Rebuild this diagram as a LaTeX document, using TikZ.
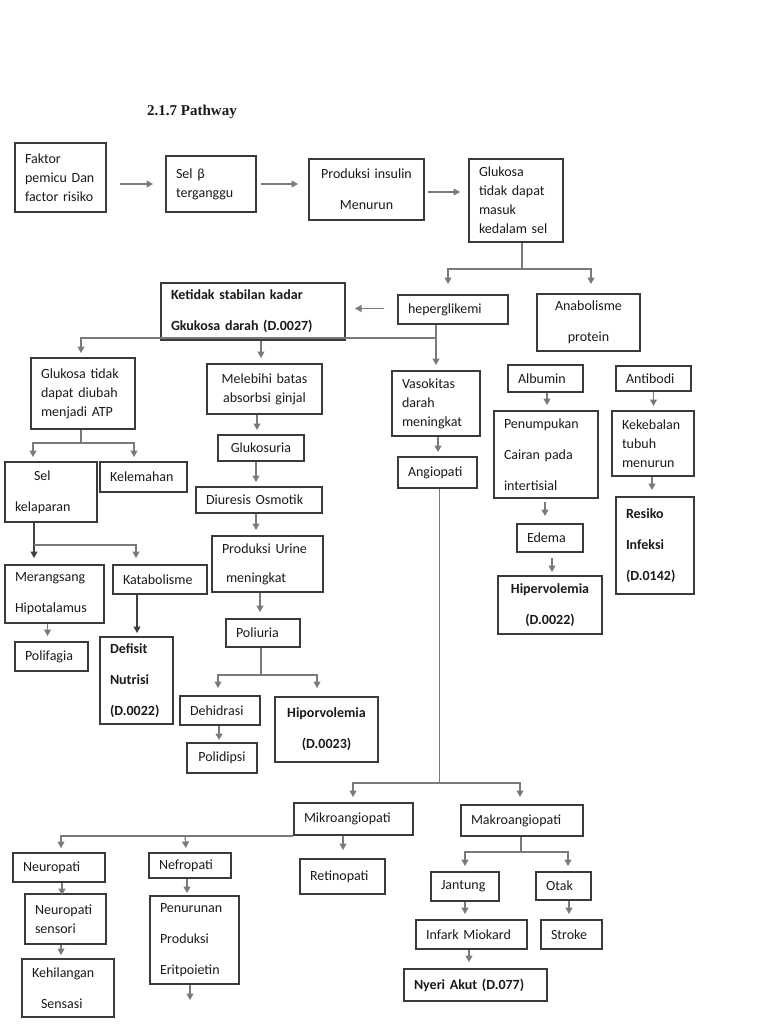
\documentclass[tikz,border=0pt]{standalone}
\usepackage{fontspec}
\setmainfont{Carlito}
\newfontfamily\titlefont{Liberation Serif}
\usetikzlibrary{arrows.meta,calc}
\definecolor{boxc}{HTML}{3A3A3A}
\definecolor{linec}{HTML}{7A7A7A}
\definecolor{darkc}{HTML}{404040}
\definecolor{txtc}{HTML}{1A1A1A}
\newcommand\fs{\fontsize{14}{19}\selectfont\hyphenpenalty=10000\exhyphenpenalty=10000}
\tikzset{
 bx/.style={draw=boxc, line width=2pt, anchor=north west, align=left, inner xsep=10pt, inner ysep=1pt, text=txtc, font=\fs},
 ln/.style={draw=linec, line width=1.2pt},
 arr/.style={ln, -{Triangle[width=7pt,length=6.5pt]}},
 darr/.style={arr, draw=darkc},
}
\newcommand\bxn[7][]{\pgfmathsetmacro\mytw{#5-20}\node[bx,minimum width=#5pt,minimum height=#6pt,text width=\mytw pt,#1] (#2) at (#3,#4) {#7};}
\begin{document}
\begin{tikzpicture}[x=1pt,y=-1pt]
\useasboundingbox (0,0) rectangle (768,1024);
\node[anchor=base west, font=\titlefont\bfseries\fontsize{15}{18}\selectfont, text=txtc, inner sep=0pt] (title) at (147,116) {2.1.7 Pathway};

\bxn{faktor}{14}{142}{91}{69}{Faktor\\pemicu Dan\\factor risiko}
\bxn{selb}{165}{155}{90}{56}{Sel β\\terganggu}
\bxn[align=center]{prod}{308}{158}{115}{61}{Produksi insulin\\[12pt]Menurun}
\bxn{glk}{468}{158}{94}{83}{Glukosa\\tidak dapat\\masuk\\kedalam sel}
\bxn{hep}{397}{294}{110}{29}{heperglikemi}
\bxn[align=center]{ana}{536}{293}{103}{57}{Anabolisme\\[12pt]protein}
\bxn[font=\fs\bfseries]{ket}{160}{282}{184}{57}{Ketidak stabilan kadar\\[12pt]Gkukosa darah (D.0027)}
\bxn{gtd}{30}{357}{104}{71}{Glukosa tidak\\dapat diubah\\menjadi ATP}
\bxn[align=center]{mel}{206}{363}{115}{50}{Melebihi batas\\absorbsi ginjal}
\bxn[align=center]{gls}{217}{434}{86}{26}{Glukosuria}
\bxn{diu}{195}{486}{126}{26}{Diuresis Osmotik}
\bxn{pru}{211}{535}{111}{56}{Produksi Urine\\[10pt]\hspace*{4pt}meningkat}
\bxn{pol}{225}{618}{74}{28}{Poliuria}
\bxn{deh}{179}{695}{80}{29}{Dehidrasi}
\bxn[align=center,font=\fs\bfseries]{hipo}{274}{696}{103}{65}{Hiporvolemia\\[12pt](D.0023)}
\bxn[align=center]{pld}{186}{742}{70}{30}{Polidipsi}
\bxn{selk}{4}{461}{92}{60}{\hspace*{19pt}Sel\\[12pt]kelaparan}
\bxn{kel}{99}{461}{87}{30}{Kelemahan}
\bxn{mer}{4}{564}{99}{58}{Merangsang\\[12pt]Hipotalamus}
\bxn{kat}{112}{564}{94}{29}{Katabolisme}
\bxn{plf}{14}{641}{73}{29}{Polifagia}
\bxn[font=\fs\bfseries]{def}{99}{636}{73}{87}{Defisit\\[12pt]Nutrisi\\[12pt](D.0022)}
\bxn{vas}{391}{370}{88}{65}{Vasokitas\\darah\\meningkat}
\bxn{ang}{397}{456}{79}{31}{Angiopati}
\bxn{mik}{293}{802}{119}{32}{Mikroangiopati}
\bxn{mak}{460}{804}{122}{31}{Makroangiopati}
\bxn{neu}{12}{852}{92}{29}{Neuropati}
\bxn{nef}{148}{852}{82}{25}{Nefropati}
\bxn{ret}{299}{858}{85}{35}{Retinopati}
\bxn{nes}{24}{893}{81}{50}{Neuropati\\sensori}
\bxn{keh}{21}{958}{92}{58}{Kehilangan\\[12pt]\hspace*{9pt}Sensasi}
\bxn{pen}{149}{895}{89}{88}{Penurunan\\[12pt]Produksi\\[12pt]Eritpoietin}
\bxn{jan}{430}{871}{68}{29}{Jantung}
\bxn{otk}{535}{871}{55}{28}{Otak}
\bxn{inf}{415}{919}{111}{29}{Infark Miokard}
\bxn{str}{540}{919}{61}{29}{Stroke}
\bxn[font=\fs\bfseries]{nye}{403}{968}{143}{32}{Nyeri Akut (D.077)}
\bxn{alb}{507}{364}{75}{27}{Albumin}
\bxn{ant}{615}{365}{75}{25}{Antibodi}
\bxn{pnp}{493}{410}{104}{87}{Penumpukan\\[12pt]Cairan pada\\[12pt]intertisial}
\bxn{ede}{516}{523}{66}{28}{Edema}
\bxn[align=center,font=\fs\bfseries]{hpv}{497}{575}{104}{58}{Hipervolemia\\[12pt](D.0022)}
\bxn{kek}{611}{410}{82}{65}{Kekebalan\\tubuh\\menurun}
\bxn[font=\fs\bfseries]{res}{615}{496}{78}{97}{Resiko\\[12pt]Infeksi\\[12pt](D.0142)}

% top row
\draw[arr] ($(faktor.east |- selb.west)+(13,0)$) -- ($(selb.west)+(-12,0)$);
\draw[arr] ($(selb.east)+(4,0)$) -- ($(prod.west |- selb.east)+(-10,0)$);
\draw[arr] ($(prod.east)+(3,2.5)$) -- ($(glk.west |- prod.east)+(-8,2.5)$);
\draw[arr] ($(glk.south)+(6,0)$) -- ++(0,26) -| ($(hep.north)+(-5,-10)$);
\draw[arr] ($(glk.south)+(6,26)$) -| ($(ana.north)+(2.5,-9)$);
\draw[arr] ($(hep.west)+(-13,-1)$) -- ($(ket.east |- hep.west)+(9,-1)$);
\draw[arr] (hep.south -| vas.north) -- ($(vas.north)+(0,-5)$);
\draw[arr] ($(vas.north)+(0,-32)$) -| ($(gtd.north)+(-2,-4)$);
\draw[arr] ($(mel.north |- ket.south)+(-3.5,0)$) -- ($(mel.north)+(-3.5,-5)$);

% middle column
\draw[arr] ($(mel.south)+(-7.5,0)$) -- ($(gls.north)+(-4,-4)$);
\draw[arr] ($(gls.south)+(-5,0)$) -- ($(diu.north)+(-3,-4)$);
\draw[arr] ($(diu.south)+(-3,0)$) -- ($(pru.north)+(-11.5,-5)$);
\draw[arr] ($(pru.south)+(-7.5,0)$) -- ($(pol.north)+(-3,-6)$);
\draw[arr] ($(pol.south)+(-2,0)$) -- ++(0,27) -| ($(deh.north)+(-2,-7)$);
\draw[arr] ($(pol.south)+(-2,27)$) -| ($(hipo.north)+(-9.5,-8)$);
\draw[arr] ($(deh.south)+(-1,0)$) -- ($(pld.north)+(-3,-2)$);

% left column
\draw[arr] ($(gtd.south)+(-2,0)$) -- ++(0,13) -| ($(selk.north)+(-18,-4)$);
\draw[arr] ($(gtd.south)+(-2,13)$) -| ($(kel.north)+(-9.5,-4)$);
\draw[darr] ($(selk.south)+(-17,0)$) -- ($(mer.north)+(-20.5,-6)$);
\draw[arr] ($(selk.south)+(-17,22)$) -| ($(kat.north)+(-24,-6)$);
\draw[arr] ($(mer.south)+(-7,0)$) -- ($(plf.north)+(-4,-5)$);
\draw[darr] ($(kat.south)+(-23,0)$) -- ($(def.north)+(0.5,-3)$);

% right middle column
\draw[arr] ($(vas.south)+(2,0)$) -- ($(ang.north)+(0.5,-4)$);
\draw[arr] ($(ang.south)+(2,0)$) -- ++(0,294) -| ($(mik.north)+(-0.5,-5)$);
\draw[arr] ($(ang.south)+(2,294)$) -| ($(mak.north)+(-2,-7)$);

% mikroangiopati
\draw[arr] (mik.south west) -| ($(neu.north)+(2,-4)$);
\draw[arr] ($(mik.south west)+(-108,0)$) -- ($(nef.north)+(-4,-4)$);
\draw[arr] ($(mik.south)+(-10.5,0)$) -- ($(ret.north)+(0.5,-8)$);
\draw[arr] ($(neu.south)+(3,0)$) -- ($(nes.north)+(-3.5,2)$);
\draw[arr] ($(nes.south)+(-4.5,0)$) -- ($(keh.north)+(-7,-3)$);
\draw[arr] ($(nef.south)+(-3,0)$) -- ($(pen.north)+(-7.5,-2)$);
\draw[arr] ($(pen.south)+(-4.5,0)$) -- ($(pen.south)+(-4.5,15)$);

% makroangiopati
\draw[arr] ($(mak.south)+(-1,0)$) -- ++(0,15) -| ($(jan.north)+(0,-5)$);
\draw[arr] ($(mak.south)+(-1,15)$) -| ($(otk.north)+(4.5,-5)$);
\draw[arr] (jan.south) -- ($(inf.north)+(-6.5,-5)$);
\draw[arr] ($(otk.south)+(5.5,0)$) -- ($(str.north)+(-2.5,-5)$);
\draw[arr] ($(inf.south)+(-2.5,0)$) -- ($(nye.north)+(-6.5,-6)$);

% anabolisme side
\draw[arr] ($(alb.south)+(1.5,0)$) -- ($(pnp.north)+(1,-5)$);
\draw[arr] ($(pnp.south)+(-1,3)$) -- ($(ede.north)+(-5,-7)$);
\draw[arr] ($(ede.south)+(2,5)$) -- ($(hpv.north)+(2,-3)$);
\draw[arr] (ant.south) -- ($(kek.north)+(0.5,-4)$);
\draw[arr] ($(kek.south)+(-1,0)$) -- ($(res.north)+(-3,-6)$);
\end{tikzpicture}
\end{document}
